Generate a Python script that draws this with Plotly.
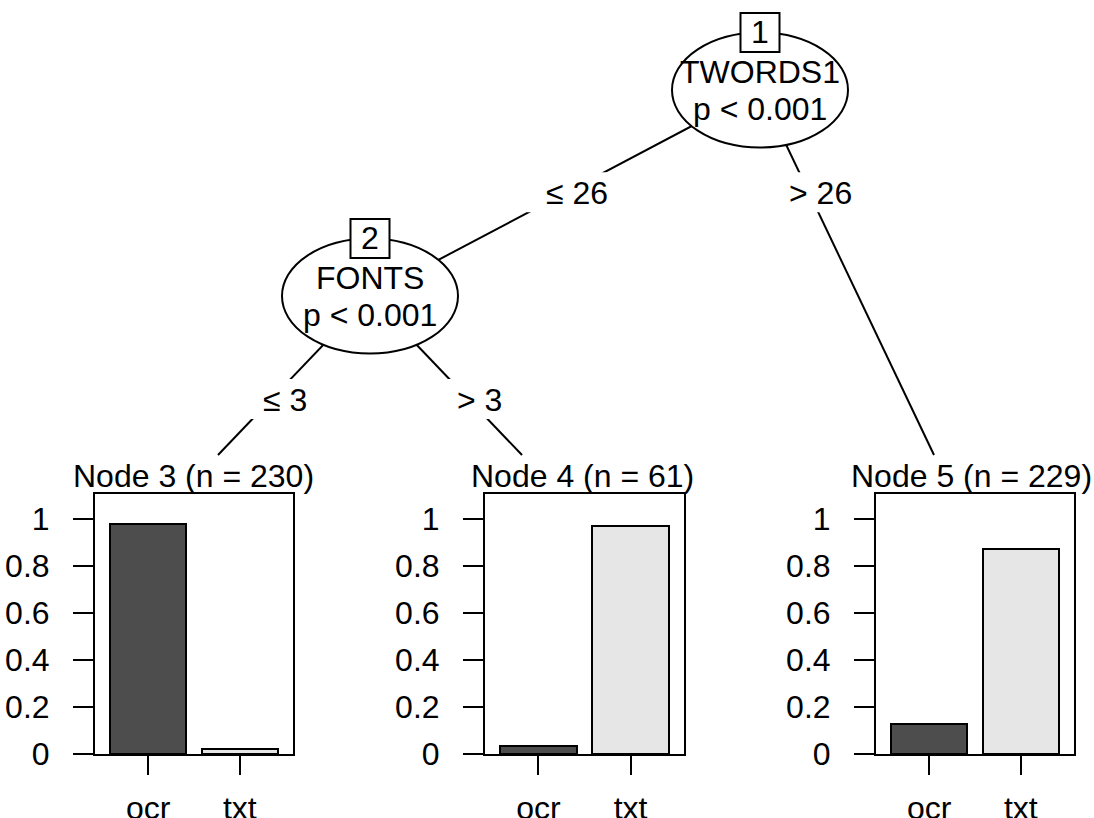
import plotly.graph_objects as go

# ---------------- data ----------------
categories = ["ocr", "txt"]
node3_props = [0.978, 0.022]
node4_props = [0.033, 0.967]
node5_props = [0.127, 0.873]
node_titles = ["Node 3 (n = 230)", "Node 4 (n = 61)", "Node 5 (n = 229)"]
y_tick_vals = [0, 0.2, 0.4, 0.6, 0.8, 1]
y_tick_text = ["0", "0.2", "0.4", "0.6", "0.8", "1"]
inner_ids = ["1", "2"]
inner_vars = ["TWORDS1", "FONTS"]
inner_pvals = ["p < 0.001", "p < 0.001"]
edge_labels = ["≤ 26", "> 26", "≤ 3", "> 3"]

# ---------------- layout (pixel geometry) ----------------
W, H = 1094, 818
FONT = "Liberation Sans, Arial, sans-serif"
FS = 32
LW = 2
bar_colors = ["#4D4D4D", "#E6E6E6"]

inner_pos = [(760, 90), (370, 296)]
ell_rx, ell_ry = 88, 57.5
box_w, box_h = 39, 39
text_dy = 18.5
# edges: (from inner node index, to point)
edge_ends = [(0, (370, 296)), (0, (934, 455)), (1, (218, 455)), (1, (522, 455))]
edge_label_pos = [(576.5, 193.3), (820.8, 193.3), (284.7, 400), (479.5, 400)]
edge_rect_halfw = [50, 50, 42, 42]
panel_x = [(95, 293), (485, 684), (876, 1074)]
panel_y = (494, 754)
title_x = [193.5, 582.5, 971.5]
title_y = 476


def px(x):
    return x / W


def py(y):
    return 1 - y / H


fig = go.Figure()
shapes = []
annotations = []

series = [node3_props, node4_props, node5_props]
for i, vals in enumerate(series):
    sfx = "" if i == 0 else str(i + 1)
    fig.add_trace(go.Bar(
        x=categories, y=vals,
        marker=dict(color=bar_colors, line=dict(color="black", width=LW)),
        width=0.83, xaxis="x" + sfx, yaxis="y" + sfx, showlegend=False,
        hoverinfo="skip",
    ))
    axis_common = dict(
        showline=True, mirror=True, linecolor="black", linewidth=LW,
        ticks="outside", tickcolor="black", tickwidth=LW,
        showgrid=False, zeroline=False, fixedrange=True, automargin=False,
        tickfont=dict(family=FONT, size=FS, color="black"),
    )
    fig.update_layout(**{
        "xaxis" + sfx: dict(
            domain=[px(panel_x[i][0]), px(panel_x[i][1])],
            range=[-0.58, 1.58], type="category",
            anchor="y" + sfx, ticklen=19, ticklabelstandoff=6,
            categoryorder="array", categoryarray=categories,
            **axis_common),
        "yaxis" + sfx: dict(
            domain=[py(panel_y[1]), py(panel_y[0])],
            range=[0, 1.105], anchor="x" + sfx,
            tickvals=y_tick_vals, ticktext=y_tick_text,
            ticklen=20, ticklabelstandoff=17,
            **axis_common),
    })
    annotations.append(dict(
        x=px(title_x[i]), y=py(title_y), xref="paper", yref="paper",
        text=node_titles[i], showarrow=False, xanchor="center", yanchor="middle",
        font=dict(family=FONT, size=FS, color="black"),
    ))

# edges (lines)
for (src, (ex, ey)) in edge_ends:
    sx, sy = inner_pos[src]
    shapes.append(dict(type="line", xref="paper", yref="paper",
                       x0=px(sx), y0=py(sy), x1=px(ex), y1=py(ey),
                       line=dict(color="black", width=LW), layer="above"))

# edge label backgrounds + text
for lab, (lx, ly), hw in zip(edge_labels, edge_label_pos, edge_rect_halfw):
    shapes.append(dict(type="rect", xref="paper", yref="paper",
                       x0=px(lx - hw), x1=px(lx + hw),
                       y0=py(ly + 19), y1=py(ly - 21),
                       fillcolor="white", line=dict(width=0), layer="above"))
    annotations.append(dict(
        x=px(lx), y=py(ly), xref="paper", yref="paper", text=lab,
        showarrow=False, xanchor="center", yanchor="middle",
        font=dict(family=FONT, size=FS, color="black")))

# inner nodes
for nid, var, pv, (cx, cy) in zip(inner_ids, inner_vars, inner_pvals, inner_pos):
    shapes.append(dict(type="circle", xref="paper", yref="paper",
                       x0=px(cx - ell_rx), x1=px(cx + ell_rx),
                       y0=py(cy + ell_ry), y1=py(cy - ell_ry),
                       fillcolor="white", line=dict(color="black", width=LW),
                       layer="above"))
    by = cy - ell_ry
    shapes.append(dict(type="rect", xref="paper", yref="paper",
                       x0=px(cx - box_w / 2), x1=px(cx + box_w / 2),
                       y0=py(by + box_h / 2), y1=py(by - box_h / 2),
                       fillcolor="white", line=dict(color="black", width=LW),
                       layer="above"))
    for txt, ty in [(nid, by - 0.5), (var, cy - text_dy), (pv, cy + text_dy)]:
        annotations.append(dict(
            x=px(cx), y=py(ty), xref="paper", yref="paper", text=txt,
            showarrow=False, xanchor="center", yanchor="middle",
            font=dict(family=FONT, size=FS, color="black")))

fig.update_layout(
    width=W, height=H,
    margin=dict(l=0, r=0, t=0, b=0, pad=0, autoexpand=False),
    paper_bgcolor="white", plot_bgcolor="white",
    shapes=shapes, annotations=annotations,
    bargap=0, showlegend=False,
)

fig.write_html("out.html", config={"displayModeBar": False},
               post_script="document.body.style.margin='0';")
